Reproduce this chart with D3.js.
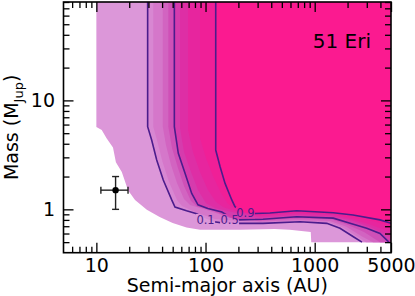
<!DOCTYPE html>
<html>
<head>
<meta charset="utf-8">
<script src="https://cdn.jsdelivr.net/npm/d3@7"></script>
<style>
  body { margin: 0; background: #fff; }
  svg { display: block; font-family: "DejaVu Sans", sans-serif; }
</style>
</head>
<body>
<div class="chart"></div>
<script>
// boundaries of the probability bands, points are [semi-major axis (AU), mass (MJup)]
var edge = [[10,80],[10,5.7],[11.2,5.35],[12.4,4.5],[14.2,3.7],[15.1,2.7],[17.1,2.2],[19.5,1.5],[22.6,1.22],[29,0.99],[38,0.85],[50,0.75],[67,0.68],[89,0.65],[207,0.65],[430,0.66],[590,0.65],[920,0.62],[930,0.5]];
var c10 = [[29.5,80],[29.5,5.73],[32.1,4.33],[35.7,2.84],[41,1.86],[49,1.22],[52.5,1.05],[67,0.97],[83,0.91],[99,0.83],[120,0.77],[151,0.744],[336,0.744],[734,0.77],[1290,0.744],[1705,0.67],[2260,0.56],[2710,0.5]];
var c20 = [[33.2,80],[33.2,5.73],[36.3,4.15],[40.4,2.72],[46.3,1.78],[54.8,1.22],[60.9,1.073],[80.1,0.945],[122,0.815],[315,0.757],[734,0.782],[1380,0.757],[1817,0.681],[2492,0.557],[2951,0.5]];
var c30 = [[40.6,80],[40.6,5.73],[43.4,3.9],[48.3,2.55],[54.8,1.745],[63.5,1.244],[72.1,1.096],[98.9,0.997],[151,0.869],[315,0.773],[734,0.798],[1380,0.782],[1935,0.696],[2713,0.563],[3421,0.5]];
var c40 = [[45.6,80],[45.6,5.73],[49.3,3.66],[55.9,2.4],[63.5,1.64],[73.6,1.19],[83.5,1.062],[109.9,0.997],[167.6,0.833],[315,0.79],[734,0.824],[1440,0.807],[2018,0.718],[2829,0.62],[3965,0.5]];
var c50 = [[51.8,80],[51.8,5.73],[56.3,3.27],[64.9,2.14],[74.7,1.40],[85.3,1.10],[105,1.02],[141,0.945],[167,0.85],[198,0.80],[336,0.81],[684,0.856],[1480,0.83],[2105,0.744],[2995,0.67],[3965,0.60],[4723,0.505],[4800,0.5]];
var c60 = [[58.4,80],[58.4,5.58],[63.5,3.36],[73.6,2.2],[85.3,1.505],[101,1.14],[122.1,1.03],[174.8,0.945],[315,0.842],[689,0.887],[1471,0.86],[2196,0.79],[3211,0.689],[4406,0.594],[5000,0.557]];
var c70 = [[69.1,80],[69.1,5.35],[76.8,3.36],[89,2.2],[105.3,1.505],[124.7,1.168],[147.6,1.04],[206.9,0.945],[315,0.869],[689,0.916],[1471,0.887],[2196,0.815],[3211,0.726],[5000,0.62]];
var c80 = [[89,80],[89,4.52],[101,2.96],[117.1,2.02],[138.6,1.41],[160.6,1.12],[206.9,0.966],[315,0.897],[689,0.945],[1471,0.906],[2196,0.842],[3568,0.773],[5000,0.689]];
var c90 = [[124,80],[124,3.5],[136,2.46],[151,1.73],[174,1.22],[186,1.06],[230,0.935],[284,0.916],[389,0.925],[684,0.97],[1480,0.93],[2244,0.887],[3965,0.80],[5000,0.744]];

var bands = [edge, c10, c20, c30, c40, c50, c60, c70, c80, c90];
var bandColors = ['#dc97d9','#d887d2','#d577ca','#d264c1','#cf50b7','#d63bad','#de2ea5','#e7259e','#f01f97','#fb1a90'];

var lines = [c10, c50, c90];
var lineLabels = ['0.1', '0.5', '0.9'];
var labelAt = [[100,0.8],[166,0.8],[232,0.935]];

var planetA = [15];
var planetM = [1.5];
var planetAErr = [[11, 19.5]];
var planetMErr = [[1, 2]];

var xMajor = [10, 100, 1000, 5000];
var xMinor = [6,7,8,9,20,30,40,50,60,70,80,90,200,300,400,500,600,700,800,900,2000,3000,4000];
var yMajor = [1, 10];
var yMinor = [0.5,0.6,0.7,0.8,0.9,2,3,4,5,6,7,8,9,20,30,40,50,60,70,80];

(function() {

var W = 415, H = 296;
var pLeft = 63.5, pRight = 391, pTop = 2, pBottom = 252.7;

var svg = d3.select('.chart')
  .append('svg')
  .attr('width', W)
  .attr('height', H);

var x = d3.scaleLog().domain([5, 5000]).range([pLeft, pRight]);
var y = d3.scaleLog().domain([0.4, 80]).range([pBottom, pTop]);

var defs = svg.append('defs');
defs.append('clipPath').attr('id', 'plotClip')
  .append('rect')
  .attr('x', pLeft).attr('y', pTop)
  .attr('width', pRight - pLeft).attr('height', pBottom - pTop);

// holes in the contour lines where the labels sit
var mask = defs.append('mask').attr('id', 'labelGaps')
  .attr('maskUnits', 'userSpaceOnUse')
  .attr('x', 0).attr('y', 0).attr('width', W).attr('height', H);
mask.append('rect').attr('width', W).attr('height', H).attr('fill', 'white');
mask.selectAll('rect.gap').data(labelAt).enter()
  .append('rect')
  .attr('class', 'gap')
  .attr('x', function(d){ return x(d[0]) - 9.5; })
  .attr('y', function(d){ return y(d[1]) - 6; })
  .attr('width', 19)
  .attr('height', 12)
  .attr('fill', 'black');

var plot = svg.append('g').attr('clip-path', 'url(#plotClip)');

var line = d3.line()
  .x(function(d){ return x(d[0]); })
  .y(function(d){ return y(d[1]); });

// each band is closed through the top right corner
plot.selectAll('path.band').data(bands).enter()
  .append('path')
  .attr('class', 'band')
  .attr('d', function(d){
    var last = d[d.length - 1];
    return line(d.concat([[5000, last[1]], [5000, 80]])) + 'Z';
  })
  .attr('fill', function(d, i){ return bandColors[i]; });

plot.append('g').attr('mask', 'url(#labelGaps)')
  .selectAll('path').data(lines).enter()
  .append('path')
  .attr('d', line)
  .attr('fill', 'none')
  .attr('stroke', '#4b1c8c')
  .attr('stroke-width', 1.6);

plot.selectAll('text.clabel').data(labelAt).enter()
  .append('text')
  .attr('class', 'clabel')
  .attr('x', function(d){ return x(d[0]); })
  .attr('y', function(d){ return y(d[1]); })
  .attr('dy', '0.36em')
  .attr('text-anchor', 'middle')
  .attr('font-size', 11.5)
  .attr('fill', '#4b1c8c')
  .text(function(d, i){ return lineLabels[i]; });

// planet with error bars
var pts = planetA.map(function(a, i){
  return {a: a, m: planetM[i], ae: planetAErr[i], me: planetMErr[i]};
});
var pg = svg.selectAll('g.planet').data(pts).enter().append('g').attr('class', 'planet')
  .attr('stroke', '#222').attr('stroke-width', 1.4);
pg.append('line')
  .attr('x1', function(d){ return x(d.ae[0]); }).attr('x2', function(d){ return x(d.ae[1]); })
  .attr('y1', function(d){ return y(d.m); }).attr('y2', function(d){ return y(d.m); });
pg.append('line')
  .attr('x1', function(d){ return x(d.a); }).attr('x2', function(d){ return x(d.a); })
  .attr('y1', function(d){ return y(d.me[0]); }).attr('y2', function(d){ return y(d.me[1]); });
[0, 1].forEach(function(k){
  pg.append('line')
    .attr('x1', function(d){ return x(d.ae[k]); }).attr('x2', function(d){ return x(d.ae[k]); })
    .attr('y1', function(d){ return y(d.m) - 3.5; }).attr('y2', function(d){ return y(d.m) + 3.5; });
  pg.append('line')
    .attr('x1', function(d){ return x(d.a) - 3.5; }).attr('x2', function(d){ return x(d.a) + 3.5; })
    .attr('y1', function(d){ return y(d.me[k]); }).attr('y2', function(d){ return y(d.me[k]); });
});
pg.append('circle')
  .attr('cx', function(d){ return x(d.a); })
  .attr('cy', function(d){ return y(d.m); })
  .attr('r', 3.2)
  .attr('fill', '#000')
  .attr('stroke', 'none');

// axes, ticks pointing inward on all four sides
var fmt = function(d){ return String(d); };
function addAxis(axis, tx, ty, labels){
  var g = svg.append('g')
    .attr('transform', 'translate(' + tx + ',' + ty + ')')
    .call(axis);
  g.select('.domain').remove();
  g.selectAll('line').attr('stroke', '#000').attr('stroke-width', 1.3);
  g.selectAll('text').attr('font-size', 19).attr('fill', '#000')
    .attr('font-family', '"DejaVu Sans", sans-serif');
  if (!labels) g.selectAll('text').remove();
  return g;
}
addAxis(d3.axisBottom(x).tickValues(xMajor).tickSize(-10).tickPadding(6).tickFormat(fmt), 0, pBottom, true);
addAxis(d3.axisBottom(x).tickValues(xMinor).tickSize(-6), 0, pBottom, false);
addAxis(d3.axisTop(x).tickValues(xMajor).tickSize(-10), 0, pTop, false);
addAxis(d3.axisTop(x).tickValues(xMinor).tickSize(-6), 0, pTop, false);
addAxis(d3.axisLeft(y).tickValues(yMajor).tickSize(-10).tickPadding(8.5).tickFormat(fmt), pLeft, 0, true);
addAxis(d3.axisLeft(y).tickValues(yMinor).tickSize(-6), pLeft, 0, false);
addAxis(d3.axisRight(y).tickValues(yMajor).tickSize(-10), pRight, 0, false);
addAxis(d3.axisRight(y).tickValues(yMinor).tickSize(-6), pRight, 0, false);

svg.append('rect')
  .attr('x', pLeft).attr('y', pTop)
  .attr('width', pRight - pLeft).attr('height', pBottom - pTop)
  .attr('fill', 'none')
  .attr('stroke', '#000')
  .attr('stroke-width', 1.6);

svg.append('text')
  .attr('x', (pLeft + pRight) / 2)
  .attr('y', 292)
  .attr('text-anchor', 'middle')
  .attr('font-size', 19)
  .text('Semi-major axis (AU)');

var yl = svg.append('text')
  .attr('transform', 'translate(17.5,' + ((pTop + pBottom) / 2) + ') rotate(-90)')
  .attr('text-anchor', 'middle')
  .attr('font-size', 19);
yl.append('tspan').text('Mass (M');
yl.append('tspan').attr('font-size', 13).attr('dy', 5).text('Jup');
yl.append('tspan').attr('dy', -5).text(')');

svg.append('text')
  .attr('x', 371)
  .attr('y', 48)
  .attr('text-anchor', 'end')
  .attr('font-size', 20)
  .text('51 Eri');

})();
</script>
</body>
</html>
